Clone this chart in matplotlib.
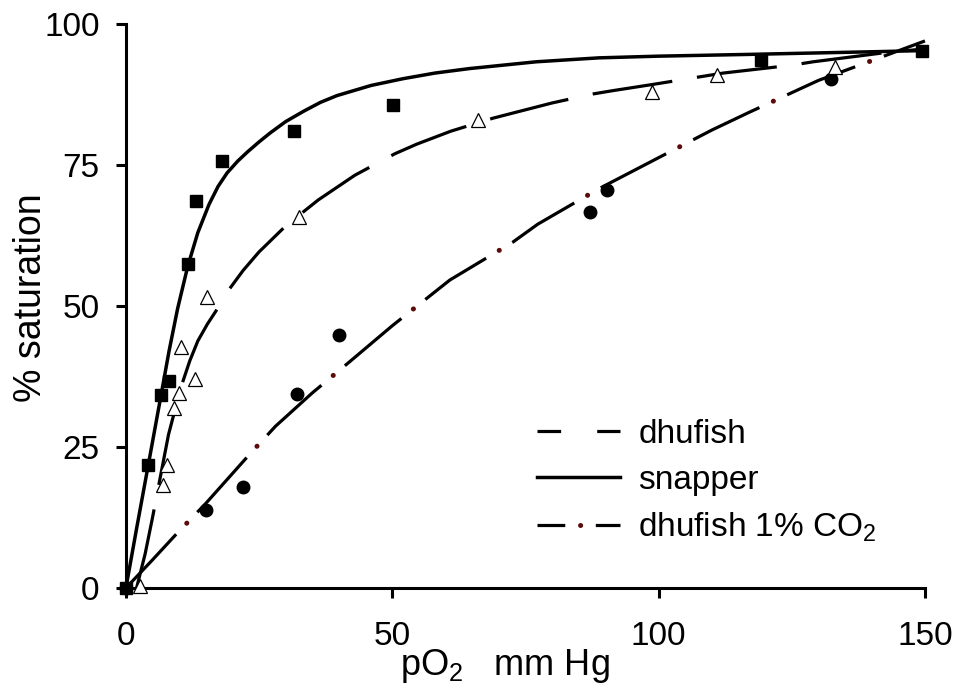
import matplotlib
matplotlib.use("Agg")
import matplotlib.pyplot as plt
from matplotlib.lines import Line2D
from matplotlib.legend_handler import HandlerTuple

plt.rcParams['font.family'] = ['Liberation Sans', 'DejaVu Sans']
plt.rcParams['mathtext.fontset'] = 'custom'
plt.rcParams['mathtext.rm'] = 'Liberation Sans'
plt.rcParams['mathtext.it'] = 'Liberation Sans:italic'
plt.rcParams['lines.scale_dashes'] = False

# measured points (pO2 mm Hg, % saturation)
snapper_x = [0, 4.2, 6.6, 8.1, 11.6, 13.1, 18.0, 31.5, 50.1, 119.3, 149.5]
snapper_y = [0, 21.8, 34.2, 36.7, 57.4, 68.7, 75.7, 81.1, 85.6, 93.6, 95.3]

dhufish_x = [2.6, 7.0, 7.8, 9.0, 9.9, 13.0, 10.3, 15.3, 32.5, 66.1, 98.7, 111.0, 133.1]
dhufish_y = [0.3, 18.3, 21.8, 31.9, 34.6, 37.1, 42.7, 51.6, 65.8, 83.0, 88.0, 91.0, 92.4]

co2_x = [0, 15.0, 22.0, 32.2, 40.0, 87.1, 90.3, 132.3]
co2_y = [0, 13.8, 18.0, 34.4, 44.9, 66.7, 70.6, 90.2]

# fitted curves
snapper_fit_x = [0, 2.0, 4.2, 6.6, 8.1, 9.7, 11.6, 13.5, 15.6, 17.3, 19.0, 21.0,
                 22.8, 25.0, 27.1, 30.0, 33.3, 36.5, 39.6, 46.0, 52.0, 58.0,
                 64.5, 77.0, 88.8, 100.0, 116.3, 141.0, 150.0]
snapper_fit_y = [0, 10.5, 21.8, 34.2, 42.0, 49.5, 57.0, 63.0, 68.0, 71.2, 73.6, 75.7,
                 77.3, 79.1, 80.7, 82.7, 84.5, 86.1, 87.3, 89.1, 90.3, 91.3,
                 92.1, 93.3, 94.0, 94.3, 94.6, 95.1, 95.3]

dhufish_fit_x = [2.0, 3.6, 5.0, 6.2, 8.0, 10.3, 12.0, 13.5, 15.3, 17.1, 19.5, 22.0,
                 25.0, 30.0, 36.1, 43.0, 50.5, 54.6, 61.0, 68.9, 73.0, 80.0,
                 87.7, 91.5, 99.0, 106.2, 112.1, 125.0, 129.0, 141.5, 150.0]
dhufish_fit_y = [0, 6.0, 12.5, 18.4, 27.2, 35.5, 40.3, 43.8, 46.8, 49.4, 53.1, 56.3,
                 59.6, 64.2, 68.8, 73.2, 77.0, 78.7, 81.0, 83.3, 84.3, 86.0,
                 87.6, 88.2, 89.3, 90.4, 91.3, 92.7, 93.3, 94.8, 95.6]

co2_fit_x = [0, 5.0, 9.4, 15.0, 23.4, 28.1, 35.0, 42.1, 50.0, 60.8, 72.6, 77.3,
             88.8, 100.0, 110.0, 116.9, 130.0, 140.0, 150.0]
co2_fit_y = [0, 5.0, 9.5, 15.0, 23.9, 28.7, 34.6, 40.2, 46.5, 54.6, 61.3, 64.5,
             70.8, 76.3, 81.2, 84.3, 90.0, 93.5, 97.0]

x_ticks = [0, 50, 100, 150]
y_ticks = [0, 25, 50, 75, 100]

DOT_RED = '#5c0b0b'

fig = plt.figure(figsize=(9.61, 6.88), dpi=100)
ax = fig.add_axes([0.131, 0.1453, 0.8315, 0.8198])

# curves
ax.plot(snapper_fit_x, snapper_fit_y, color='black', lw=2.5, solid_capstyle='butt',
        solid_joinstyle='round', clip_on=False, zorder=2)
ax.plot(dhufish_fit_x, dhufish_fit_y, color='black', lw=2.3,
        linestyle=(0, (58, 18)), dash_capstyle='butt', dash_joinstyle='round',
        clip_on=False, zorder=2)
ax.plot(co2_fit_x, co2_fit_y, color='black', lw=2.3,
        linestyle=(0, (53, 22)), dash_capstyle='butt', dash_joinstyle='round',
        clip_on=False, zorder=2)
ax.plot(co2_fit_x, co2_fit_y, color=DOT_RED, lw=3.6,
        linestyle=(11, (0.1, 74.9)), dash_capstyle='round', clip_on=False, zorder=2)

# data points
ax.plot(snapper_x, snapper_y, 's', color='black', ms=8.5, clip_on=False, zorder=3)
ax.plot(co2_x, co2_y, 'o', color='black', ms=9, clip_on=False, zorder=3)
ax.plot(dhufish_x, dhufish_y, '^', mfc='white', mec='black', mew=0.9, ms=9.5,
        clip_on=False, zorder=4)

ax.set_xlim(0, 150)
ax.set_ylim(0, 100)
ax.set_xticks(x_ticks)
ax.set_yticks(y_ticks)

for side in ['top', 'right']:
    ax.spines[side].set_visible(False)
for side in ['left', 'bottom']:
    ax.spines[side].set_linewidth(2.2)

ax.tick_params(direction='out', length=7, width=2.2, labelsize=24)
ax.tick_params(axis='y', pad=12)
ax.tick_params(axis='x', pad=17)

ax.set_xlabel(r'pO$_\mathrm{2}$   mm Hg', fontsize=26)
ax.xaxis.set_label_coords(0.474, -0.105)
ax.set_ylabel('% saturation', fontsize=27)
ax.yaxis.set_label_coords(-0.096, 0.515)

# legend proxies
h_dhu = Line2D([], [], color='black', lw=2.3, linestyle=(0, (17, 26)), dash_capstyle='butt')
h_snap = Line2D([], [], color='black', lw=2.5)
h_co2a = Line2D([], [], color='black', lw=2.3, linestyle=(0, (20, 22)), dash_capstyle='butt')
h_co2b = Line2D([], [], color=DOT_RED, lw=3.6, linestyle=(69, (0.1, 99.9)), dash_capstyle='round')

ax.legend([h_dhu, h_snap, (h_co2a, h_co2b)],
          ['dhufish', 'snapper', r'dhufish 1% CO$_\mathrm{2}$'],
          handler_map={tuple: HandlerTuple(ndivide=1, pad=0)},
          loc='upper left', bbox_to_anchor=(0.514, 0.30), frameon=False,
          fontsize=24, borderpad=0, borderaxespad=0, handlelength=2.5,
          handletextpad=0.55, labelspacing=0.45)

fig.savefig('out.png', dpi=100)
